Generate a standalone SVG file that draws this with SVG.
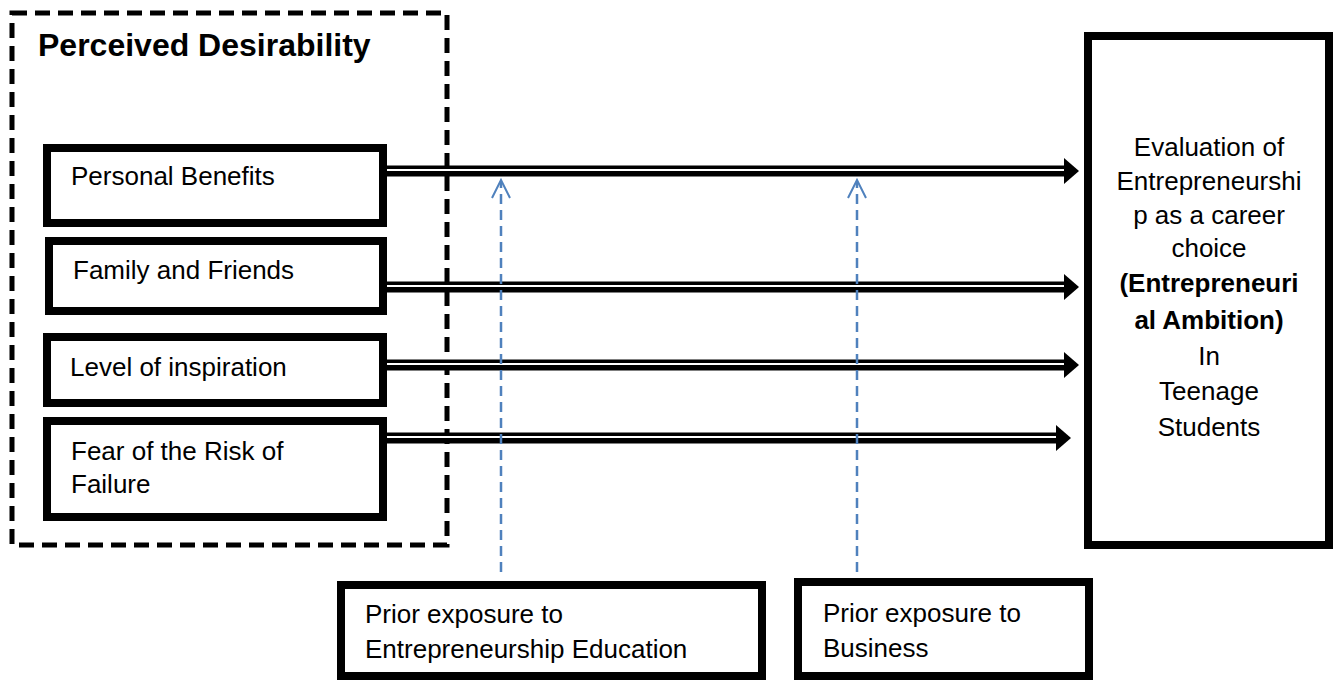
<svg xmlns="http://www.w3.org/2000/svg" width="1338" height="680" viewBox="0 0 1338 680">
<style>
.box{fill:#fff;stroke:#000;stroke-width:8}
.t{font-family:"Liberation Sans",Arial,sans-serif;font-size:26px;fill:#000}
.b{font-weight:bold}
.title{font-size:32px}
.shaft{stroke:#000;stroke-width:11;fill:none}
.gap{stroke:#fff;stroke-width:2;fill:none}
.head{fill:#000}
.mod{stroke:#4F81BD;stroke-width:2.5;stroke-dasharray:10 6;fill:none}
.modhead{stroke:#4F81BD;stroke-width:2;fill:none}
</style>
<rect width="1338" height="680" fill="#fff"/>
<g id="perceived-desirability">
<rect x="12" y="13" width="435" height="532" fill="none" stroke="#000" stroke-width="5" stroke-dasharray="15 8"/>
<text class="t b title" x="38" y="56">Perceived Desirability</text>
</g>
<g id="personal-benefits">
<rect class="box" x="47" y="148" width="336" height="75"/>
<text class="t" x="71" y="185">Personal Benefits</text>
</g>
<g id="family-friends">
<rect class="box" x="49" y="241" width="334" height="70"/>
<text class="t" x="73" y="279">Family and Friends</text>
</g>
<g id="level-inspiration">
<rect class="box" x="47" y="337" width="336" height="66"/>
<text class="t" x="70" y="376">Level of inspiration</text>
</g>
<g id="fear-risk">
<rect class="box" x="47" y="421" width="336" height="96"/>
<text class="t" x="71" y="460">Fear of the Risk of</text>
<text class="t" x="71" y="493">Failure</text>
</g>
<g id="evaluation">
<rect class="box" x="1088" y="36" width="241" height="509"/>
<g text-anchor="middle">
<text class="t" x="1209" y="156">Evaluation of</text>
<text class="t" x="1209" y="190">Entrepreneurshi</text>
<text class="t" x="1209" y="224">p as a career</text>
<text class="t" x="1209" y="257">choice</text>
<text class="t b" x="1209" y="292">(Entrepreneuri</text>
<text class="t b" x="1209" y="329">al Ambition)</text>
<text class="t" x="1209" y="365">In</text>
<text class="t" x="1209" y="400">Teenage</text>
<text class="t" x="1209" y="436">Students</text>
</g>
</g>
<g id="prior-education">
<rect class="box" x="341" y="585" width="421" height="91"/>
<text class="t" x="365" y="623">Prior exposure to</text>
<text class="t" x="365" y="658">Entrepreneurship Education</text>
</g>
<g id="prior-business">
<rect class="box" x="798" y="582" width="291" height="94"/>
<text class="t" x="823" y="622">Prior exposure to</text>
<text class="t" x="823" y="657">Business</text>
</g>
<g id="connectors">
<line class="shaft" x1="387" y1="171" x2="1067" y2="171"/>
<line class="gap" x1="387" y1="170" x2="1066" y2="170"/>
<polygon class="head" points="1064,158 1079,171 1064,184"/>
<line class="shaft" x1="387" y1="287" x2="1067" y2="287"/>
<line class="gap" x1="387" y1="286" x2="1066" y2="286"/>
<polygon class="head" points="1064,274 1079,287 1064,300"/>
<line class="shaft" x1="387" y1="365" x2="1067" y2="365"/>
<line class="gap" x1="387" y1="364" x2="1066" y2="364"/>
<polygon class="head" points="1064,352 1079,365 1064,378"/>
<line class="shaft" x1="387" y1="438" x2="1058" y2="438"/>
<line class="gap" x1="387" y1="437" x2="1057" y2="437"/>
<polygon class="head" points="1056,425 1071,438 1056,451"/>
<line class="mod" x1="501" y1="572" x2="501" y2="182"/>
<polyline class="modhead" points="492,198 501,180 510,198"/>
<line class="mod" x1="857" y1="572" x2="857" y2="182"/>
<polyline class="modhead" points="848,198 857,180 866,198"/>
</g>
</svg>
